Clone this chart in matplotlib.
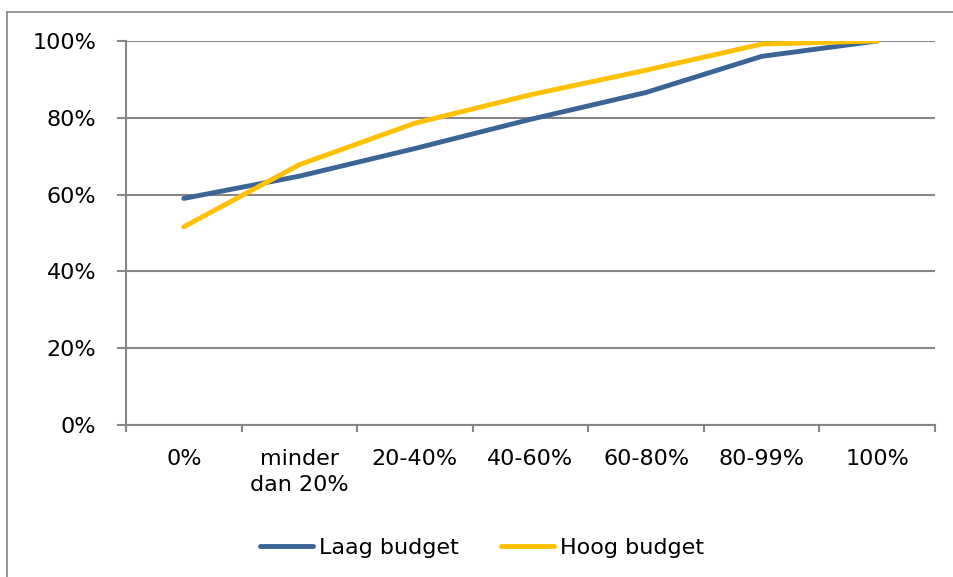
import matplotlib
matplotlib.use("Agg")
import matplotlib.pyplot as plt
from matplotlib.lines import Line2D
from matplotlib.ticker import FixedLocator

categories = ["0%", "minder\ndan 20%", "20-40%", "40-60%", "60-80%", "80-99%", "100%"]
laag = [59.0, 64.8, 72.0, 79.6, 86.6, 96.0, 100.0]
hoog = [51.6, 67.8, 78.6, 86.0, 92.4, 99.2, 100.0]
yticks = [0, 20, 40, 60, 80, 100]
series_names = ["Laag budget", "Hoog budget"]

plt.rcParams['font.family'] = ['DejaVu Sans']

fig = plt.figure(figsize=(9.54, 5.77), dpi=100)
fig.patch.set_facecolor('white')
# outer chart border (left and top only visible)
bx, by = 7.5/954, 1 - 12/577
fig.add_artist(Line2D([bx, bx], [-0.01, by], transform=fig.transFigure,
                      color='#8c8c8c', linewidth=1.3))
fig.add_artist(Line2D([bx, 1.01], [by, by], transform=fig.transFigure,
                      color='#8c8c8c', linewidth=1.3))

ax = fig.add_axes([126/954, 1 - 425/577, (935 - 126)/954, (425 - 41)/577])
x = list(range(len(categories)))
blue = '#3A6596'
yellow = '#FFC000'
ax.plot(x, laag, color=blue, linewidth=3.5, solid_capstyle='round', zorder=3)
ax.plot(x, hoog, color=yellow, linewidth=3.5, solid_capstyle='round', zorder=3)

fs = 16
ax.set_xlim(-0.5, len(categories) - 0.5)
ax.set_ylim(0, 100)
ax.set_yticks(yticks)
ax.set_yticklabels([f"{v}%" for v in yticks])
ax.set_xticks(x)
ax.set_xticklabels(categories, linespacing=1.4)
ax.xaxis.set_minor_locator(FixedLocator([i - 0.5 for i in range(len(categories) + 1)]))
ax.tick_params(axis='x', which='major', length=0, pad=17, labelsize=fs)
ax.tick_params(axis='x', which='minor', length=5, width=1.5, color='#868686', direction='out')
ax.tick_params(axis='y', which='major', length=6.5, width=1.5, color='#868686', pad=15, labelsize=fs)
ax.grid(axis='y', color='#868686', linewidth=1.5, zorder=1)
for s in ['top', 'right']:
    ax.spines[s].set_visible(False)
for s in ['left', 'bottom']:
    ax.spines[s].set_color('#868686')
    ax.spines[s].set_linewidth(1.5)

handles = [Line2D([0], [0], color=blue, linewidth=3.5, solid_capstyle='round'),
           Line2D([0], [0], color=yellow, linewidth=3.5, solid_capstyle='round')]
fig.legend(handles, series_names, loc='center', bbox_to_anchor=(482/954, 1 - 548/577),
           ncol=2, frameon=False, fontsize=fs, handlelength=2.4, handletextpad=0.25,
           columnspacing=1.9)

fig.savefig("out.png", dpi=100, facecolor='white')
